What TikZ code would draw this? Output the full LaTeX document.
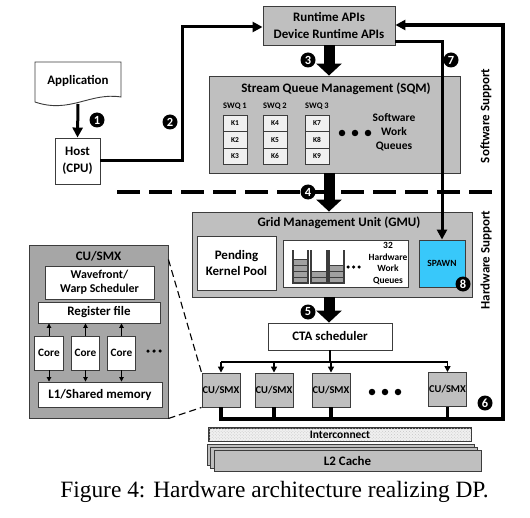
\documentclass[tikz,border=0pt]{standalone}
\usepackage{fontspec}
\setmainfont{Liberation Serif}
\newfontfamily\cb{Carlito}
\usetikzlibrary{arrows.meta,patterns,calc}
\definecolor{gfill}{RGB}{191,191,191}
\definecolor{dfill}{RGB}{166,166,166}
\definecolor{kfill}{RGB}{240,240,240}
\definecolor{slotc}{RGB}{160,160,160}
\definecolor{spawnc}{RGB}{56,200,250}
\definecolor{edge}{RGB}{60,60,60}
\begin{document}
\begin{tikzpicture}[x=1bp,y=-1bp,
  box/.style={draw=edge,line width=0.9bp,inner sep=0pt,align=center},
  gbox/.style={box,fill=gfill},
  wbox/.style={box,fill=white},
  kbox/.style={box,fill=kfill,minimum width=24bp,minimum height=16.5bp,font=\cb\bfseries\fontsize{7.5}{9}\selectfont},
  cubox/.style={box,fill=gfill,minimum width=38bp,minimum height=34bp,font=\cb\bfseries\fontsize{10.5}{12}\selectfont},
  corebox/.style={box,fill=white,minimum width=28.5bp,minimum height=34bp,font=\cb\bfseries\fontsize{11.3}{13}\selectfont},
  fbig/.style={font=\cb\bfseries\fontsize{13}{16.5}\selectfont},
  fmid/.style={font=\cb\bfseries\fontsize{11.5}{14}\selectfont},
  fsm/.style={font=\cb\bfseries\fontsize{9.5}{12}\selectfont},
  num/.style={circle,fill=black,inner sep=0pt,minimum size=15bp,text=white,font=\cb\bfseries\fontsize{12.5}{12.5}\selectfont},
  conn/.style={line width=3bp,-{Triangle[width=10bp,length=10bp]}},
  bigarrow/.style={line width=11bp,-{Triangle[width=25bp,length=12bp]}},
  treeline/.style={line width=2bp},
  treearr/.style={line width=1.6bp,-{Triangle[width=6bp,length=6bp]}},
  smallarr/.style={line width=0.9bp,-{Triangle[width=4.5bp,length=4.5bp]}},
  bigdot/.style={circle,fill=black,inner sep=0pt,minimum size=6.5bp},
  smalldot/.style={circle,fill=black,inner sep=0pt,minimum size=3.5bp}
]
\useasboundingbox (0,0) rectangle (530,518);

% ---------- Application & Host ----------
\draw[draw=edge,line width=0.9bp,fill=white] (35,62) -- (121,62) -- (121,97)
   .. controls (90,92) and (70,114) .. (35,102) -- cycle;
\node[fbig] (app) at (78,81) {Application};
\coordinate (appbot) at (78,104);
\node[wbox,fbig,minimum width=45bp,minimum height=46bp] (host) at (77.5,161) {Host\\(CPU)};
\draw[conn] (appbot) -- (host.north);
\node[num] (n1) at (97,120) {1};

% ---------- Runtime APIs ----------
\node[gbox,fbig,minimum width=132bp,minimum height=39bp] (rt) at (329,25.5) {Runtime APIs\\Device Runtime APIs};
\coordinate (c2) at (182,27);
\draw[conn] (host.east) -| (c2) -- (c2 -| rt.west);
\node[num] (n2) at (170,122) {2};

% ---------- SQM ----------
\node[gbox,minimum width=251bp,minimum height=97bp] (sqm) at (334.5,124.5) {};
\node[fbig] (sqmt) at (336,89) {Stream Queue Management (SQM)};
\foreach \i/\x/\a/\b/\c in {1/235/K1/K2/K3,2/275/K4/K5/K6,3/317/K7/K8/K9}{
  \node[font=\cb\bfseries\fontsize{8.5}{10}\selectfont] (swq\i) at (\x,106) {SWQ \i};
  \node[kbox] (ka\i) at (\x,123.25) {\a};
  \node[kbox] (kb\i) at (\x,139.75) {\b};
  \node[kbox] (kc\i) at (\x,156.25) {\c};
}
\node[bigdot] (d1) at (342,133) {};
\node[bigdot] (d2) at (355,133) {};
\node[bigdot] (d3) at (368,133) {};
\node[fmid,align=center] (swt) at (394,132) {Software\\Work\\Queues};
\draw[bigarrow] (rt.south) -- (rt.south |- sqm.north);
\node[num] (n3) at (308,60) {3};

% ---------- separator ----------
\coordinate (sepL) at (117,192);
\coordinate (sepR) at (498,192);
\draw[line width=3.8bp,dash pattern=on 23bp off 9bp] (sepL) -- (sepR);

% ---------- GMU ----------
\node[gbox,minimum width=280bp,minimum height=85bp] (gmu) at (332,254.5) {};
\node[fbig] (gmut) at (339,223) {Grid Management Unit (GMU)};
\node[wbox,fbig,minimum width=79bp,minimum height=54bp] (pkp) at (236.5,263) {Pending\\Kernel Pool};
\node[wbox,minimum width=125bp,minimum height=47bp] (hwq) at (345.5,263.5) {};
\node[box,fill=spawnc,minimum width=46bp,minimum height=47bp,font=\cb\bfseries\fontsize{9.5}{11}\selectfont] (spawn) at (442,263.5) {SPAWN};
\foreach \xa/\xb/\n in {293/308/4,311/327/2,329/344/3}{
  \foreach \k in {1,...,\n}{
    \draw[fill=slotc,draw=edge,line width=0.7bp] (\xa,{283-\k*5.8}) rectangle (\xb,{283-(\k-1)*5.8});
  }
  \draw[line width=1.3bp,draw=edge] (\xa,250) -- (\xa,283) -- (\xb,283) -- (\xb,250);
}
\node[smalldot] (hd1) at (348,267) {};
\node[smalldot] (hd2) at (353.5,267) {};
\node[smalldot] (hd3) at (359,267) {};
\node[font=\cb\bfseries\fontsize{9.5}{12}\selectfont,align=center] (hwt) at (388,263.5) {32\\Hardware\\Work\\Queues};
\draw[bigarrow] (sqm.south -| rt.south) -- (gmu.north -| rt.south);
\node[num] (n4) at (308,192) {4};
\node[num] (n8) at (463,284) {8};

% ---------- CTA ----------
\node[wbox,fbig,minimum width=124bp,minimum height=27bp] (cta) at (330,336.5) {CTA scheduler};
\draw[bigarrow] (gmu.south -| rt.south) -- (cta.north -| rt.south);
\node[num] (n5) at (308,312) {5};

% ---------- CU/SMX row ----------
\node[cubox] (cu1) at (221,390) {CU/SMX};
\node[cubox] (cu2) at (274,390) {CU/SMX};
\node[cubox] (cu3) at (331,390) {CU/SMX};
\node[cubox] (cu4) at (447.5,389.5) {CU/SMX};
\node[bigdot] (e1) at (372,392) {};
\node[bigdot] (e2) at (385,392) {};
\node[bigdot] (e3) at (398,392) {};
\coordinate (tj) at (330,362);
\draw[treeline] (cta.south) -- (tj);
\draw[treeline] (cu1.north |- tj) -- (cu4.north |- tj);
\foreach \c in {cu1,cu2,cu3,cu4}{
  \draw[treearr] (\c.north |- tj) -- (\c.north);
}

% ---------- bus and connector 6 ----------
\coordinate (busR) at (503,419);
\coordinate (topR) at (503,25);
\draw[line width=3.4bp,line join=miter,-{Triangle[width=10bp,length=10bp]}]
   (cu1.south) |- (busR) -- (topR) -- (topR -| rt.east);
\foreach \c in {cu2,cu3,cu4}{
  \draw[line width=3.6bp] (\c.south) -- (\c.south |- busR);
}
\node[num] (n6) at (485,403) {6};

% ---------- connector 7 ----------
\draw[conn,line join=miter] ($(rt.south east)+(0,-4)$) -| (spawn.north);
\node[num] (n7) at (451,60) {7};

% ---------- side labels ----------
\node[fbig,rotate=90] (sws) at (486,116) {Software Support};
\node[fbig,rotate=90] (hws) at (486,260) {Hardware Support};

% ---------- Interconnect and L2 ----------
\node[box,fill=gray!12,minimum width=262bp,minimum height=13bp] (ic) at (340,434.5) {};
\fill[pattern=crosshatch dots,pattern color=gray!45] (ic.south west) rectangle (ic.north east);
\draw[draw=edge,line width=0.9bp] (ic.south west) rectangle (ic.north east);
\node[font=\cb\bfseries\fontsize{11.5}{12}\selectfont] (ict) at (ic) {Interconnect};
\node[gbox,minimum width=267bp,minimum height=21bp] (l2c) at (340.5,454.5) {};
\node[gbox,minimum width=267bp,minimum height=21bp] (l2b) at (344,457.5) {};
\node[gbox,fbig,minimum width=267bp,minimum height=21bp] (l2) at (347.5,460.5) {L2 Cache};

% ---------- CU/SMX detail ----------
\node[box,fill=dfill,minimum width=139bp,minimum height=173bp] (detail) at (98.5,331.5) {};
\node[fbig] (dt) at (98.5,256) {CU/SMX};
\node[wbox,font=\cb\bfseries\fontsize{12}{14}\selectfont,minimum width=109bp,minimum height=33bp] (wf) at (99.5,282.5) {Wavefront/\\Warp Scheduler};
\node[wbox,fbig,minimum width=122bp,minimum height=21bp] (rf) at (99,312.5) {Register file};
\node[corebox] (co1) at (49,353) {Core};
\node[corebox] (co2) at (85.5,353) {Core};
\node[corebox] (co3) at (121.5,353) {Core};
\node[wbox,fbig,minimum width=124bp,minimum height=25bp] (l1) at (100,394.5) {L1/Shared memory};
\foreach \c in {co1,co2,co3}{
  \draw[smallarr] (\c.north) -- (\c.north |- rf.south);
  \draw[smallarr] (\c.south) -- (\c.south |- l1.north);
}
\node[smalldot] (cd1) at (148,351) {};
\node[smalldot] (cd2) at (154,351) {};
\node[smalldot] (cd3) at (160,351) {};
\coordinate (dtr) at ($(detail.north east)+(0,15)$);
\draw[line width=1.1bp,dash pattern=on 7bp off 4bp] (dtr) -- (cu1.north west);
\draw[line width=1.1bp,dash pattern=on 7bp off 4bp] (detail.south east) -- (cu1.south west);

% ---------- caption ----------
\node[font=\fontsize{23.5}{28}\selectfont] (cap) at (274.5,492) {Figure 4: Hardware architecture realizing DP.};
\end{tikzpicture}
\end{document}
